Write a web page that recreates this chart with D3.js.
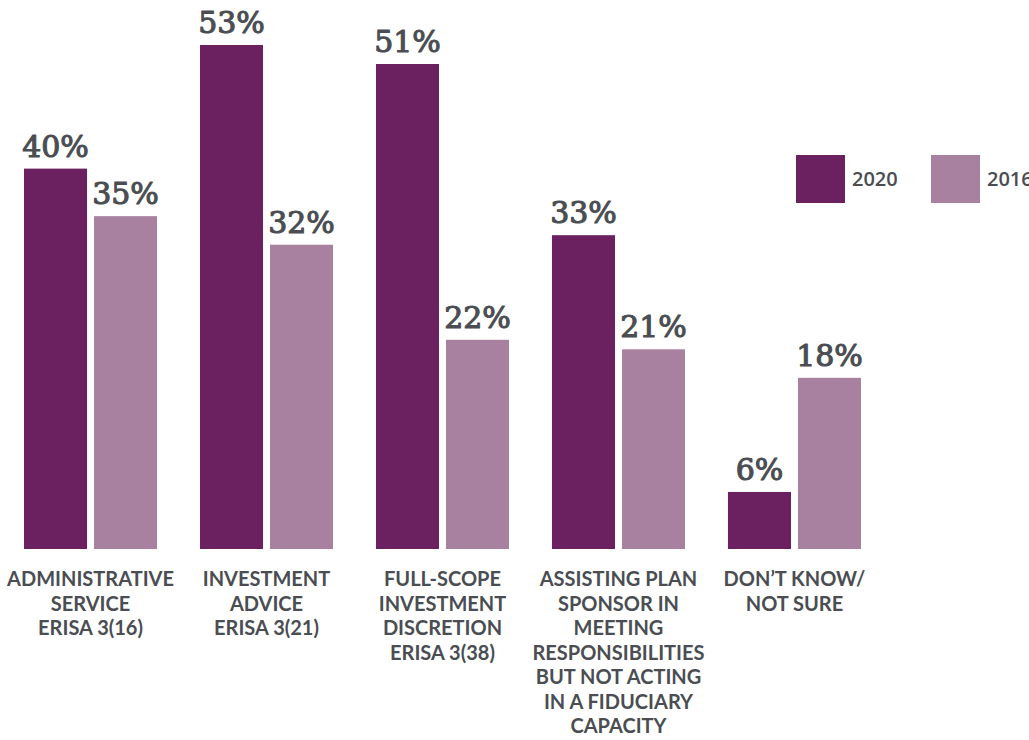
<!DOCTYPE html>
<html>
<head>
<meta charset="utf-8">
<script src="https://cdn.jsdelivr.net/npm/d3@7"></script>
<style>
  html, body { margin: 0; padding: 0; background: #ffffff; }
  svg { display: block; }
</style>
</head>
<body>
<svg id="chart" width="1029" height="740"></svg>
<script>
// Fiduciary role categories (one label line per array entry)
const categories = [
  ["ADMINISTRATIVE", "SERVICE", "ERISA 3(16)"],
  ["INVESTMENT", "ADVICE", "ERISA 3(21)"],
  ["FULL-SCOPE", "INVESTMENT", "DISCRETION", "ERISA 3(38)"],
  ["ASSISTING PLAN", "SPONSOR IN", "MEETING", "RESPONSIBILITIES", "BUT NOT ACTING", "IN A FIDUCIARY", "CAPACITY"],
  ["DON\u2019T KNOW/", "NOT SURE"]
];
const seriesNames = ["2020", "2016"];
const values2020 = [40, 53, 51, 33, 6];
const values2016 = [35, 32, 22, 21, 18];
const seriesColors = ["#6b2060", "#a7819f"];

const textColor = "#4a4d52";
const svg = d3.select("#chart");

const keys = categories.map((c, i) => "c" + i);
const rows = keys.map((k, i) => ({ key: k, lines: categories[i], vals: [values2020[i], values2016[i]] }));

const x0 = d3.scaleBand().domain(keys).range([24, 861]).paddingInner(0.244).paddingOuter(0);
const x1 = d3.scaleBand().domain(seriesNames).range([0, x0.bandwidth()]).paddingInner(0.1).paddingOuter(0);
const y = d3.scaleLinear().domain([0, 53]).range([549, 45]);

const groups = svg.append("g").selectAll("g")
  .data(rows).join("g")
  .attr("transform", d => `translate(${x0(d.key)},0)`);

const cells = groups.selectAll("g.cell")
  .data(d => d.vals.map((v, j) => ({ v, s: seriesNames[j], j })))
  .join("g").attr("class", "cell");

cells.append("rect")
  .attr("x", d => x1(d.s))
  .attr("y", d => y(d.v))
  .attr("width", x1.bandwidth())
  .attr("height", d => y(0) - y(d.v))
  .attr("fill", d => seriesColors[d.j]);

cells.append("text")
  .attr("x", d => x1(d.s) + x1.bandwidth() / 2)
  .attr("y", d => y(d.v) - 12)
  .attr("text-anchor", "middle")
  .attr("font-family", "'DejaVu Serif', serif")
  .attr("font-size", 30)
  .attr("fill", textColor)
  .attr("stroke", textColor)
  .attr("stroke-width", 1.1)
  .attr("stroke-linejoin", "round")
  .text(d => d.v + "%");

// Category labels under each group
groups.append("text")
  .attr("text-anchor", "middle")
  .attr("font-family", "Lato, 'Open Sans', sans-serif")
  .attr("font-weight", 700)
  .attr("font-size", 20)
  .attr("fill", textColor)
  .selectAll("tspan")
  .data(d => d.lines)
  .join("tspan")
  .attr("x", x0.bandwidth() / 2)
  .attr("y", (d, i) => 586 + i * 24.5)
  .text(d => d);

// Legend
const legend = svg.append("g").selectAll("g")
  .data(seriesNames).join("g")
  .attr("transform", (d, i) => `translate(${796 + i * 135},155)`);
legend.append("rect")
  .attr("width", 49).attr("height", 48)
  .attr("fill", (d, i) => seriesColors[i]);
legend.append("text")
  .attr("x", 56).attr("y", 31)
  .attr("font-family", "'Open Sans', sans-serif")
  .attr("font-weight", 600)
  .attr("font-size", 20)
  .attr("fill", textColor)
  .text(d => d);
</script>
</body>
</html>
